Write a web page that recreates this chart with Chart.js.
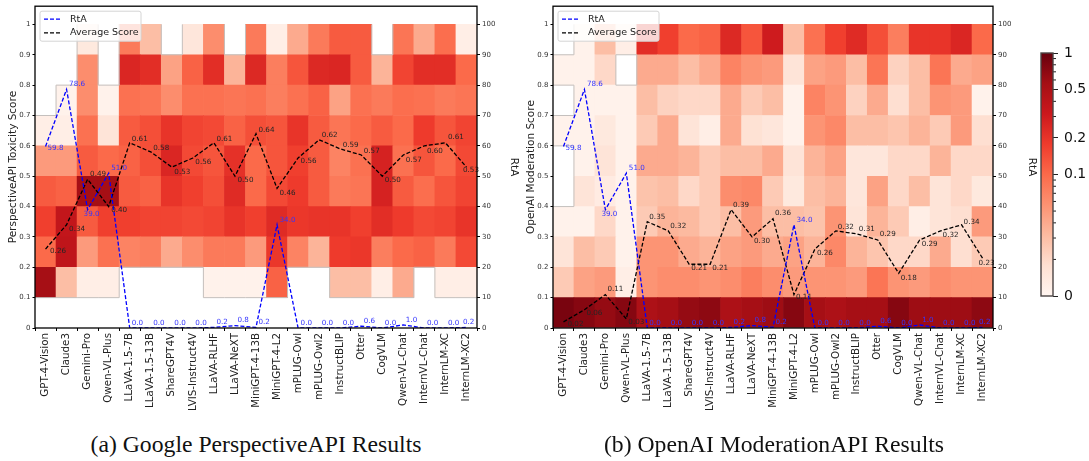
<!DOCTYPE html>
<html>
<head>
<meta charset="utf-8">
<title>RtA and score distribution</title>
<script src="https://cdn.jsdelivr.net/npm/chart.js@4"></script>
<style>
    html, body { margin: 0; padding: 0; background: #fff; }
    body { position: relative; width: 1089px; height: 461px; overflow: hidden; }
    canvas { position: absolute; top: 0; }
    .caption {
        position: absolute; top: 431px; width: 520px; text-align: center;
        font-family: "Liberation Serif", serif; font-size: 23.7px; color: #111; white-space: nowrap;
    }
</style>
</head>
<body>
<canvas id="perspectiveChart" width="520" height="420" style="left:0"></canvas>
<canvas id="moderationChart" width="520" height="420" style="left:518px"></canvas>
<canvas id="colorbarChart" width="89" height="320" style="left:1000px"></canvas>
<div class="caption" style="left:-4px">(a) Google PerspectiveAPI Results</div>
<div class="caption" style="left:514px">(b) OpenAI ModerationAPI Results</div>
<script>
const models = ['GPT-4-Vision', 'Claude3', 'Gemini-Pro', 'Qwen-VL-Plus', 'LLaVA-1.5-7B', 'LLaVA-1.5-13B',
    'ShareGPT4V', 'LVIS-Instruct4V', 'LLaVA-RLHF', 'LLaVA-NeXT', 'MiniGPT-4-13B', 'MiniGPT-4-L2', 'mPLUG-Owl',
    'mPLUG-Owl2', 'InstructBLIP', 'Otter', 'CogVLM', 'Qwen-VL-Chat', 'InternVL-Chat', 'InternLM-XC', 'InternLM-XC2'];

const binEdges = [0, 0.1, 0.2, 0.3, 0.4, 0.5, 0.6, 0.7, 0.8, 0.9, 1];

const rta = [59.8, 78.6, 39.0, 51.0, 0.0, 0.0, 0.0, 0.0, 0.2, 0.8, 0.2, 34.0, 0.0, 0.0, 0.0, 0.6, 0.0, 1.0, 0.0, 0.0, 0.2];
const perspectiveAvg = [0.26, 0.34, 0.49, 0.40, 0.61, 0.58, 0.53, 0.56, 0.61, 0.50, 0.64, 0.46, 0.56, 0.62, 0.59, 0.57, 0.50, 0.57, 0.60, 0.61, 0.53];
const moderationAvg = [0.02, 0.06, 0.11, 0.03, 0.35, 0.32, 0.21, 0.21, 0.39, 0.30, 0.36, 0.11, 0.26, 0.32, 0.31, 0.29, 0.18, 0.29, 0.32, 0.34, 0.23];

// share of samples per score bin (0-0.1 first), one row per model, null = empty cell
const perspectiveShares = [
    [null, .55, .10, .17, .12, .05, .012, null, null, null],
    [null, .03, .38, .36, .11, .05, .012, .01, null, null],
    [null, .012, .05, .12, .55, .12, .09, .06, .06, .014],
    [null, .012, .09, .17, .55, .10, .016, .01, null, null],
    [null, null, .07, .17, .12, .11, .12, .09, .25, .08],
    [null, null, .075, .16, .11, .14, .14, .085, .22, .03],
    [null, null, .04, .16, .20, .25, .20, .06, .045, null],
    [null, null, .06, .15, .17, .15, .16, .09, .11, .015],
    [null, .01, .08, .16, .14, .13, .15, .09, .22, .06],
    [null, .01, .08, .20, .23, .21, .11, .085, .035, null],
    [null, .01, .05, .17, .10, .10, .14, .09, .24, .08],
    [null, .11, .19, .23, .15, .13, .13, .075, .075, .012],
    [null, null, .07, .19, .18, .17, .20, .09, .13, .04],
    [null, null, .035, .20, .12, .12, .12, .11, .24, .08],
    [null, .03, .18, .20, .08, .07, .085, .045, .25, .12],
    [null, .03, .19, .17, .085, .09, .10, .09, .12, .12],
    [null, .012, .075, .22, .27, .27, .12, .08, .035, null],
    [null, .04, .10, .18, .12, .09, .10, .095, .16, .085],
    [null, null, .11, .15, .095, .13, .18, .09, .22, .04],
    [null, .012, .08, .16, .13, .10, .13, .08, .22, .095],
    [null, .012, .15, .20, .16, .15, .16, .085, .10, .012]
];
const moderationShares = [
    [.85, .025, .016, .01, null, null, .01, null, .01, null],
    [.75, .045, .03, .01, .016, .01, .01, .01, .011, .01],
    [.65, .05, .025, .02, .013, .016, .014, .01, .02, .03],
    [.75, .012, .01, .01, .01, .01, .01, .01, null, .012],
    [.50, .055, .055, .025, .028, .04, .025, .03, .04, .22],
    [.55, .06, .055, .035, .03, .04, .04, .022, .04, .17],
    [.65, .06, .04, .032, .02, .035, .016, .02, .03, .10],
    [.70, .055, .035, .025, .025, .025, .012, .02, .04, .11],
    [.50, .06, .045, .03, .06, .03, .04, .04, .07, .24],
    [.55, .075, .05, .05, .065, .03, .017, .025, .055, .13],
    [.60, .06, .04, .03, .025, .04, .015, .03, .05, .30],
    [.75, .05, .045, .03, .014, .016, .01, .01, .016, .03],
    [.55, .055, .035, .028, .03, .035, .055, .07, .045, .09],
    [.50, .055, .065, .055, .035, .045, .065, .055, .05, .17],
    [.55, .05, .035, .016, .015, .015, .03, .022, .03, .23],
    [.55, .085, .027, .035, .045, .015, .03, .04, .085, .14],
    [.75, .055, .02, .025, .02, .02, .027, .018, .022, .075],
    [.60, .05, .02, .012, .03, .02, .035, .03, .03, .20],
    [.60, .06, .04, .016, .016, .035, .025, .055, .085, .20],
    [.60, .055, .018, .018, .02, .02, .05, .05, .04, .25],
    [.70, .055, .025, .05, .014, .02, .018, .01, .045, .10]
];

const colorbarMajor = [0, 0.1, 0.2, 0.5, 1];
const colorbarMinor = [0.02, 0.03, 0.04, 0.05, 0.06, 0.07, 0.08, 0.09, 0.3, 0.4, 0.6, 0.7, 0.8, 0.9];

// label nudges in px from the point: [dx, dy]
const rtaLabelNudge = [[2, 2], [2.5, -5], [-4, 5], [2.5, -5], [2, -5], [2.5, -5], [2.5, -5], [2.5, -5], [2.5, -5], [2.5, -5],
    [2.5, -5], [2.5, -5], [2.5, -5], [2.5, -5], [2.5, -5], [2.5, -5], [2.5, -5], [2.5, -5], [2.5, -5], [2.5, -5], [-3.5, -5]];
const perspectiveLabelNudge = [[4.5, 2], [2.5, 4], [2.5, -5], [2.5, 4], [2, -4], [2.5, -4], [2.5, 5], [2.5, 4.5], [2.5, -3.5], [2.5, 4],
    [2.5, -4], [2.5, 5], [2.5, 3], [2.5, -4.5], [2.5, -4], [2.5, -3.5], [2.5, 4], [2.5, 5.5], [2.5, 5], [2.5, -6], [-3.5, 3]];
const moderationLabelNudge = [[4, 2], [2, 3], [2, -5], [2, 3.5], [2, -5], [2, -4.5], [2, 3.5], [2, 3.5], [2, -4.5], [2, 4],
    [2, -6], [2, 3], [2, 4.5], [2, -4], [2, -4.5], [2, -6], [2, 5], [2, 4.5], [2, 4], [2, -3], [-4, 5]];

const redsStops = ['#fff5f0', '#fee0d2', '#fcbba1', '#fc9272', '#fb6a4a', '#ef3b2c', '#cb181d', '#a50f15', '#67000d'];

const FONT = '"DejaVu Sans", sans-serif';

// colorbar position of a share: log from 0.01 to 1, pale below that
function shareToPos(v) {
    return v <= 0.01 ? v * 2 : (Math.log10(v) + 2) / 2;
}

function hexToRgb(hex) {
    return [1, 3, 5].map(i => parseInt(hex.substr(i, 2), 16));
}

function redsColor(t) {
    const f = Math.min(Math.max(t, 0), 1) * (redsStops.length - 1);
    const i = Math.min(Math.floor(f), redsStops.length - 2);
    const a = hexToRgb(redsStops[i]), b = hexToRgb(redsStops[i + 1]);
    const c = a.map((x, k) => Math.round(x + (b[k] - x) * (f - i)));
    return 'rgb(' + c.join(',') + ')';
}

// grey line around the empty cells
function drawEmptyEdges(chart, shares) {
    const { ctx, scales: { x, y } } = chart;
    const half = (x.getPixelForValue(1) - x.getPixelForValue(0)) / 2;
    const filled = (m, b) => shares[m] !== undefined && shares[m][b] !== undefined && shares[m][b] !== null;
    ctx.save();
    ctx.strokeStyle = '#c4c0be';
    ctx.lineWidth = 1;
    ctx.beginPath();
    shares.forEach((row, m) => row.forEach((v, b) => {
        if (v !== null) return;
        const cx = x.getPixelForValue(m);
        const top = y.getPixelForValue(binEdges[b + 1]), bottom = y.getPixelForValue(binEdges[b]);
        if (filled(m - 1, b)) { ctx.moveTo(cx - half, top); ctx.lineTo(cx - half, bottom); }
        if (filled(m + 1, b)) { ctx.moveTo(cx + half, top); ctx.lineTo(cx + half, bottom); }
        if (filled(m, b - 1)) { ctx.moveTo(cx - half, bottom); ctx.lineTo(cx + half, bottom); }
        if (filled(m, b + 1)) { ctx.moveTo(cx - half, top); ctx.lineTo(cx + half, top); }
    }));
    ctx.stroke();
    ctx.restore();
}

function drawPointLabels(chart, datasetIndex, decimals, color, nudges) {
    const { ctx } = chart;
    const points = chart.getDatasetMeta(datasetIndex).data;
    const values = chart.data.datasets[datasetIndex].data;
    ctx.save();
    ctx.font = '7.2px ' + FONT;
    ctx.fillStyle = color;
    ctx.textAlign = 'left';
    ctx.textBaseline = 'middle';
    points.forEach((pt, i) => {
        ctx.fillText(values[i].toFixed(decimals), pt.x + nudges[i][0], pt.y + nudges[i][1]);
    });
    ctx.restore();
}

function drawLegendBox(chart, items) {
    const { ctx, chartArea } = chart;
    const left = chartArea.left + 5, top = chartArea.top + 5;
    ctx.save();
    ctx.beginPath();
    ctx.roundRect(left, top, 101, 30, 2);
    ctx.fillStyle = 'rgba(255,255,255,0.8)';
    ctx.fill();
    ctx.strokeStyle = '#d4d4d4';
    ctx.lineWidth = 1;
    ctx.stroke();
    ctx.font = '9.5px ' + FONT;
    ctx.textBaseline = 'middle';
    items.forEach((ds, i) => {
        const rowY = top + 8 + i * 13.6;
        ctx.beginPath();
        ctx.setLineDash(ds.borderDash);
        ctx.strokeStyle = ds.borderColor;
        ctx.lineWidth = ds.borderWidth;
        ctx.moveTo(left + 4, rowY);
        ctx.lineTo(left + 22, rowY);
        ctx.stroke();
        ctx.setLineDash([]);
        ctx.fillStyle = '#222';
        ctx.fillText(ds.label, left + 30, rowY);
    });
    ctx.restore();
}

function initHeatmap(canvasId, yTitle, shares, avgScores, avgNudges, leftWidth, rightWidth) {
    const canvas = document.getElementById(canvasId);
    const ctx = canvas.getContext('2d');

    const binSets = binEdges.slice(0, -1).map((low, b) => ({
        type: 'bar',
        order: 2,
        grouped: false,
        barPercentage: 1,
        categoryPercentage: 1,
        borderWidth: 0,
        xAxisID: 'x',
        yAxisID: 'y',
        data: shares.map(row => row[b] === null ? null : [low, binEdges[b + 1]]),
        backgroundColor: shares.map(row => row[b] === null ? 'rgba(0,0,0,0)' : redsColor(shareToPos(row[b])))
    }));

    new Chart(ctx, {
        data: {
            labels: models,
            datasets: binSets.concat([
                {
                    type: 'line', order: 1, label: 'RtA', data: rta, yAxisID: 'y1',
                    borderColor: '#0000ff', borderWidth: 1.3, borderDash: [4, 2], pointRadius: 0, tension: 0
                },
                {
                    type: 'line', order: 1, label: 'Average Score', data: avgScores, yAxisID: 'y',
                    borderColor: '#000', borderWidth: 1.3, borderDash: [4, 2], pointRadius: 0, tension: 0
                }
            ])
        },
        options: {
            responsive: false,
            animation: false,
            layout: { padding: { top: 4, left: 0, right: 0, bottom: 0 } },
            plugins: { legend: { display: false }, tooltip: { enabled: false } },
            scales: {
                x: {
                    afterFit: s => { s.height = 92; },
                    border: { display: false },
                    grid: { drawOnChartArea: false, tickLength: 3, color: '#000' },
                    ticks: { autoSkip: false, minRotation: 90, maxRotation: 90, padding: 2, color: '#222', font: { family: FONT, size: 10.3 } }
                },
                y: {
                    position: 'left',
                    min: 0, max: 1.06,
                    afterFit: s => { s.width = leftWidth; },
                    border: { display: false },
                    grid: { drawOnChartArea: false, tickLength: 2.5, color: '#000' },
                    title: { display: true, text: yTitle, color: '#222', padding: { top: 7, bottom: 0 }, font: { family: FONT, size: 10.5 } },
                    ticks: {
                        stepSize: 0.1, includeBounds: false, autoSkip: false, padding: 2, color: '#333',
                        font: { family: FONT, size: 7 },
                        callback: v => String(Number(v.toFixed(1)))
                    }
                },
                y1: {
                    position: 'right',
                    min: 0, max: 106,
                    afterFit: s => { s.width = rightWidth; },
                    border: { display: false },
                    grid: { drawOnChartArea: false, tickLength: 3, color: '#000' },
                    title: { display: true, text: 'RtA', color: '#222', padding: { top: 0, bottom: 15 }, font: { family: FONT, size: 10.5 } },
                    ticks: {
                        stepSize: 10, includeBounds: false, autoSkip: false, padding: 2, color: '#333',
                        font: { family: FONT, size: 7 }
                    }
                }
            }
        },
        plugins: [{
            id: 'heatmapExtras',
            afterDatasetDraw(chart, args) {
                if (args.index === 0) drawEmptyEdges(chart, shares);
            },
            afterDatasetsDraw(chart) {
                const a = chart.chartArea;
                drawPointLabels(chart, 10, 1, '#3535ff', rtaLabelNudge);
                drawPointLabels(chart, 11, 2, '#262626', avgNudges);
                drawLegendBox(chart, chart.data.datasets.slice(10));
                chart.ctx.save();
                chart.ctx.strokeStyle = '#000';
                chart.ctx.lineWidth = 1.3;
                chart.ctx.strokeRect(a.left, a.top, a.right - a.left, a.bottom - a.top);
                chart.ctx.restore();
            }
        }]
    });
}

function initColorbar() {
    const ctx = document.getElementById('colorbarChart').getContext('2d');
    new Chart(ctx, {
        type: 'bar',
        data: {
            labels: ['share'],
            datasets: [{
                data: [[0, 1]],
                barPercentage: 1,
                categoryPercentage: 1,
                borderWidth: 0,
                backgroundColor(c) {
                    const area = c.chart.chartArea;
                    if (!area) return redsStops[0];
                    const g = c.chart.ctx.createLinearGradient(0, area.bottom, 0, area.top);
                    redsStops.forEach((col, i) => g.addColorStop(i / (redsStops.length - 1), col));
                    return g;
                }
            }]
        },
        options: {
            responsive: false,
            animation: false,
            layout: { padding: { top: 53, left: 41, right: 0, bottom: 24 } },
            plugins: { legend: { display: false }, tooltip: { enabled: false } },
            scales: {
                x: { display: false },
                y: {
                    position: 'right',
                    min: 0, max: 1,
                    afterFit: s => { s.width = 36; },
                    afterBuildTicks: s => { s.ticks = colorbarMajor.map(v => ({ value: shareToPos(v), label: String(v) })); },
                    border: { display: false },
                    grid: { drawOnChartArea: false, tickLength: 5, color: '#222' },
                    ticks: {
                        padding: 6, color: '#111', font: { family: FONT, size: 14 },
                        callback: (val, i) => String(colorbarMajor[i])
                    }
                }
            }
        },
        plugins: [{
            id: 'colorbarFrame',
            afterDraw(chart) {
                const { ctx: c, chartArea: a, scales: { y } } = chart;
                c.save();
                c.strokeStyle = '#222';
                c.lineWidth = 1;
                c.beginPath();
                colorbarMinor.forEach(v => {
                    const py = y.getPixelForValue(shareToPos(v));
                    c.moveTo(a.right, py);
                    c.lineTo(a.right + 3, py);
                });
                c.stroke();
                c.strokeStyle = '#4a4444';
                c.lineWidth = 1.4;
                c.strokeRect(a.left, a.top, a.right - a.left, a.bottom - a.top);
                c.restore();
            }
        }]
    });
}

document.addEventListener('DOMContentLoaded', function() {
    initHeatmap('perspectiveChart', 'PerspectiveAPI Toxicity Score', perspectiveShares, perspectiveAvg, perspectiveLabelNudge, 35, 43);
    initHeatmap('moderationChart', 'OpenAI Moderation Score', moderationShares, moderationAvg, moderationLabelNudge, 35, 45);
    initColorbar();
});
</script>
</body>
</html>
